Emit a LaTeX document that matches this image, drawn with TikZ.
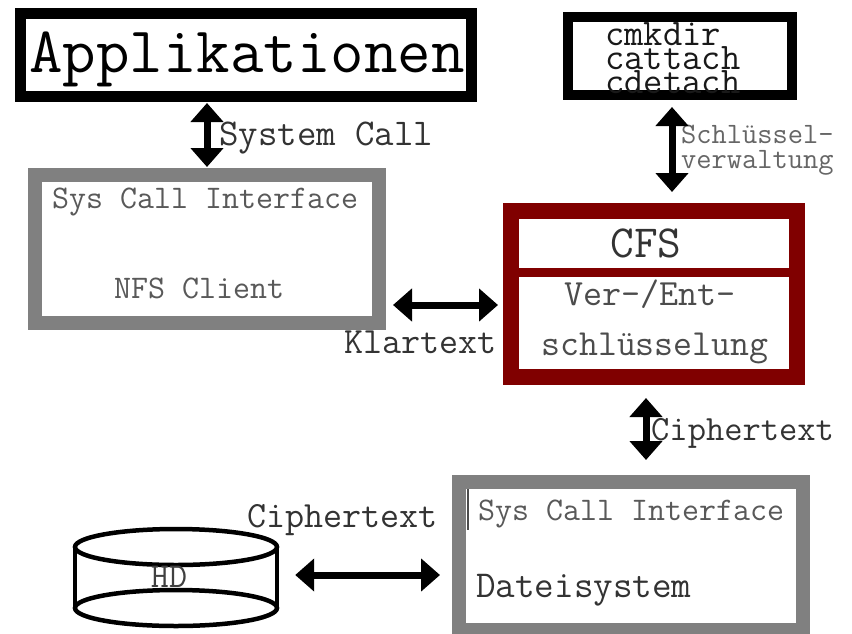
\documentclass[tikz,border=0pt]{standalone}
\usetikzlibrary{arrows.meta}
\definecolor{cfsred}{HTML}{800000}
\definecolor{boxgray}{HTML}{808080}
\newcommand\monofs[1]{\fontsize{#1}{#1}\selectfont\ttfamily}
\begin{document}
\begin{tikzpicture}[x=1pt,y=-1pt,
  frame/.style={draw, fill=white, inner sep=0pt},
  txt/.style={inner sep=0pt, anchor=base west},
  dbl/.style={line width=7pt, {Triangle[width=32pt,length=19pt]}-{Triangle[width=32pt,length=19pt]}}]
\useasboundingbox (0,0) rectangle (852,633);
\fill[white] (0,0) rectangle (852,633);

% boxes
\node[frame, line width=11pt, minimum width=451pt, minimum height=83pt] (app) at (246,55) {};
\node[frame, line width=10pt, minimum width=224pt, minimum height=78pt] (keys) at (680,56) {};
\node[frame, draw=boxgray, line width=14pt, minimum width=344pt, minimum height=148pt] (nfs) at (207,249) {};
\node[frame, draw=cfsred, line width=16pt, minimum width=286pt, minimum height=166pt] (cfs) at (654,294) {};
\draw[cfsred, line width=9pt] (512,272.5) -- (796,272.5);
\node[frame, draw=boxgray, line width=14pt, minimum width=344pt, minimum height=148pt] (fs) at (631,556) {};
\draw[black!70, line width=1.5pt] (468,489) -- (468,530);

% HD cylinder
\node[inner sep=0pt, minimum width=206pt, minimum height=85pt] (hd) at (176,578) {};
\draw[line width=4.5pt] (75,547) -- (75,608) (277,547) -- (277,608);
\draw[line width=4.5pt] (176,547) ellipse [x radius=101pt, y radius=18pt];
\draw[line width=4.5pt] (176,608) ellipse [x radius=101pt, y radius=18pt];
\node[inner sep=0pt, anchor=base, font=\monofs{35}, text=black!75] (thd) at (169,587) {HD};

% texts
\node[inner sep=0pt, anchor=base, font=\monofs{65}] (tapp) at (247,72) {Applikationen};
\node[inner sep=0pt, anchor=north west, align=left, font=\fontsize{37.5}{21.5}\selectfont\ttfamily, text=black!90] (tkeys) at (605,22.5) {cmkdir\\cattach\\cdetach};
\node[txt, font=\monofs{37.8}, text=black!80] (tsc) at (219,145) {System Call};
\node[txt, font=\monofs{33}, text=black!65] (tsci1) at (52,208) {Sys Call Interface};
\node[txt, font=\monofs{33}, text=black!65] (tnfs) at (114,298) {NFS Client};
\node[txt, font=\monofs{37}, text=black!80] (tklar) at (344,353) {Klartext};
\node[inner sep=0pt, anchor=base, font=\monofs{46}, text=black!80] (tcfs) at (646,257) {CFS};
\node[txt, font=\monofs{37}, text=black!70] (tver) at (564,305) {Ver-/Ent-};
\node[txt, font=\monofs{36.8}, text=black!70] (tschl) at (541,355) {schlüsselung};
\node[txt, font=\monofs{29.6}, text=black!60] (tsv1) at (681,143) {Schlüssel-};
\node[txt, font=\monofs{29.6}, text=black!60] (tsv2) at (681,168) {verwaltung};
\node[txt, font=\monofs{35.5}, text=black!80] (tci1) at (651,440) {Ciphertext};
\node[txt, font=\monofs{37}, text=black!80] (tci2) at (247,527) {Ciphertext};
\node[txt, font=\monofs{33}, text=black!65] (tsci2) at (478,520) {Sys Call Interface};
\node[txt, font=\monofs{38}, text=black!80] (tdat) at (476,597) {Dateisystem};

% connectors
\draw[dbl, shorten <=1pt, shorten >=1pt] (app.south -| nfs.north) -- (nfs.north);
\coordinate (ka) at ([xshift=-8pt]keys.south);
\draw[dbl, shorten <=7pt, shorten >=11pt] (ka) -- (ka |- cfs.north);
\coordinate (ca) at ([yshift=-11pt]cfs.west);
\draw[dbl, shorten <=7pt, shorten >=5pt] (nfs.east |- ca) -- (ca);
\coordinate (cb) at ([xshift=-8pt]cfs.south);
\draw[dbl, shorten <=13pt, shorten >=15pt] (cb) -- (cb |- fs.north);
\coordinate (cc) at ([yshift=3pt]hd.east);
\draw[dbl, shorten <=16pt, shorten >=12pt] (cc) -- (cc -| fs.west);
\end{tikzpicture}
\end{document}
